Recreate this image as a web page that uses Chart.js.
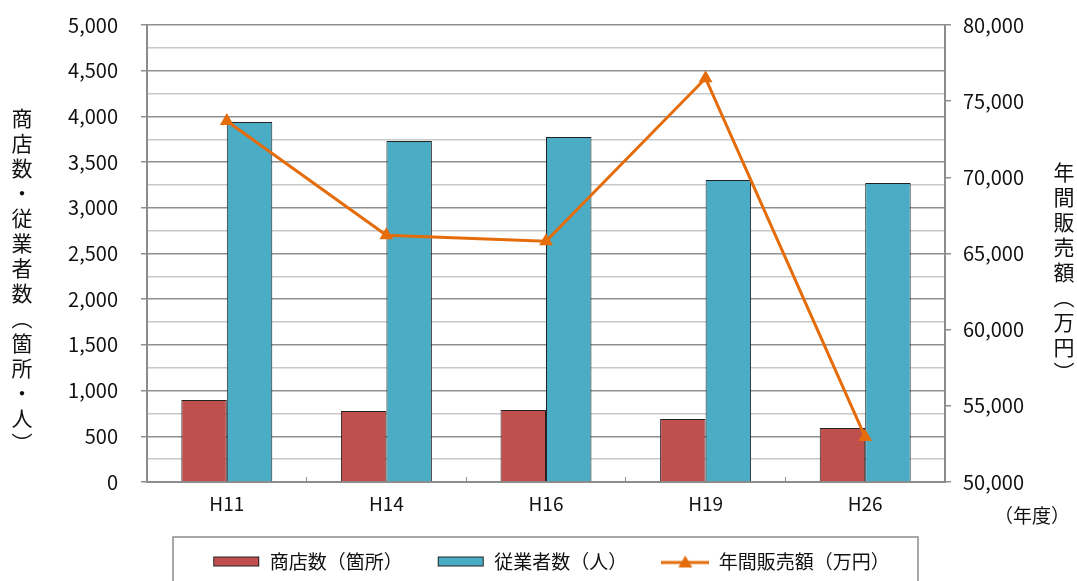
<!DOCTYPE html>
<html lang="ja">
<head>
<meta charset="utf-8">
<script src="https://cdn.jsdelivr.net/npm/chart.js@4.4.1/dist/chart.umd.min.js"></script>
<style>
  body { margin: 0; background: #fff; }
  #wrap { position: relative; width: 1077px; height: 581px; overflow: hidden; }
  .vtitle {
    position: absolute;
    writing-mode: vertical-rl;
    font-family: "Noto Sans CJK JP", sans-serif;
    font-size: 21px;
    letter-spacing: 4px;
    line-height: 30px;
    width: 30px;
    color: #111;
  }
  #unit {
    position: absolute;
    left: 994px;
    top: 501px;
    font-family: "Noto Sans CJK JP", sans-serif;
    font-size: 19px;
    color: #111;
  }
</style>
</head>
<body>
<div id="wrap">
  <canvas id="chart" width="1077" height="581"></canvas>
  <div class="vtitle" style="left:7px; top:108px;">商店数・従業者数（箇所・人）</div>
  <div class="vtitle" style="left:1049px; top:162px;">年間販売額（万円）</div>
  <div id="unit">（年度）</div>
</div>
<script>
// データ
const categories = ["H11", "H14", "H16", "H19", "H26"];
const shops = [897, 777, 788, 689, 591];            // 商店数（箇所）
const employees = [3939, 3731, 3775, 3304, 3271];   // 従業者数（人）
const sales = [73700, 66200, 65800, 76500, 52950];  // 年間販売額（万円）

const RED = "#C0504D";
const BLUE = "#4BACC6";
const ORANGE = "#E46C0A";
const FONT = "'Noto Sans CJK JP', 'Noto Sans', sans-serif";

const fmt = (v) => v.toLocaleString("en-US");

// 凡例のマーカー（キャンバス画像）
function swatch(color) {
  const c = document.createElement("canvas");
  c.width = 48;
  c.height = 12;
  const g = c.getContext("2d");
  g.fillStyle = color;
  g.fillRect(1, 1, 46, 10);
  g.strokeStyle = "#222";
  g.lineWidth = 1;
  g.strokeRect(1.5, 1.5, 45, 9);
  return c;
}
function lineMarker() {
  const c = document.createElement("canvas");
  c.width = 48;
  c.height = 16;
  const g = c.getContext("2d");
  g.strokeStyle = ORANGE;
  g.lineWidth = 3;
  g.beginPath();
  g.moveTo(0, 9);
  g.lineTo(48, 9);
  g.stroke();
  g.fillStyle = ORANGE;
  g.beginPath();
  g.moveTo(24, 2);
  g.lineTo(31, 14);
  g.lineTo(17, 14);
  g.closePath();
  g.fill();
  return c;
}
const legendMarks = [swatch(RED), swatch(BLUE), lineMarker()];

// 凡例の枠
const legendFrame = {
  id: "legendFrame",
  afterDraw(chart) {
    const ctx = chart.ctx;
    ctx.save();
    ctx.strokeStyle = "#8c8c8c";
    ctx.lineWidth = 1.5;
    ctx.strokeRect(173, 537, 745, 60);
    ctx.restore();
  },
};

const ctx = document.getElementById("chart").getContext("2d");
new Chart(ctx, {
  type: "bar",
  data: {
    labels: categories,
    datasets: [
      {
        label: "商店数（箇所）",
        data: shops,
        backgroundColor: RED,
        borderColor: "#222",
        borderWidth: 1,
        yAxisID: "y",
        order: 2,
      },
      {
        label: "従業者数（人）",
        data: employees,
        backgroundColor: BLUE,
        borderColor: "#222",
        borderWidth: 1,
        yAxisID: "y",
        order: 2,
      },
      {
        type: "line",
        label: "年間販売額（万円）",
        data: sales,
        borderColor: ORANGE,
        backgroundColor: ORANGE,
        borderWidth: 3,
        tension: 0,
        pointStyle: "triangle",
        pointRadius: 8,
        pointBorderWidth: 0,
        pointBackgroundColor: ORANGE,
        yAxisID: "y1",
        order: 1,
      },
    ],
  },
  options: {
    responsive: false,
    animation: false,
    layout: { padding: { left: 25, top: 25, right: 0, bottom: 0 } },
    datasets: {
      bar: { barPercentage: 1, categoryPercentage: 0.57 },
    },
    plugins: {
      tooltip: { enabled: false },
      legend: {
        position: "bottom",
        labels: {
          usePointStyle: true,
          pointStyleWidth: 48,
          boxHeight: 12,
          padding: 34,
          color: "#111",
          font: { family: FONT, size: 19 },
          sort: (a, b) => a.datasetIndex - b.datasetIndex,
          generateLabels(chart) {
            const items = Chart.defaults.plugins.legend.labels.generateLabels(chart);
            items.forEach((it) => {
              it.pointStyle = legendMarks[it.datasetIndex];
            });
            return items;
          },
        },
      },
    },
    scales: {
      x: {
        offset: true,
        grid: {
          offset: true,
          drawOnChartArea: false,
          tickLength: -5,
          color: "#8c8c8c",
          lineWidth: 1,
        },
        border: { color: "#8c8c8c", width: 2 },
        ticks: {
          color: "#111",
          padding: 15,
          font: { family: FONT, size: 19 },
        },
        afterFit(s) {
          s.height = 581 - 25 - 457 - s.chart.legend.height;
        },
      },
      y: {
        position: "left",
        min: 0,
        max: 5000,
        grid: {
          color: (c) => (c.tick && c.tick.value % 500 === 0 ? "#8f8f8f" : "#c8c8c8"),
          tickColor: (c) => (c.tick && c.tick.value % 500 === 0 ? "#8f8f8f" : "rgba(0,0,0,0)"),
          lineWidth: 1.5,
          tickLength: 6,
        },
        border: { color: "#8c8c8c", width: 2 },
        ticks: {
          stepSize: 250,
          autoSkip: false,
          padding: 23,
          color: "#111",
          // lineHeight は小さくして上端の余白を増やさない
          font: { family: FONT, size: 20, lineHeight: 0.2 },
          callback: (v) => (v % 500 === 0 ? fmt(v) : ""),
        },
        afterFit(s) {
          s.width = 122;
        },
      },
      y1: {
        position: "right",
        min: 50000,
        max: 80000,
        grid: {
          drawOnChartArea: false,
          tickLength: 6,
          tickColor: "#8f8f8f",
          lineWidth: 1.5,
        },
        border: { color: "#8c8c8c", width: 2 },
        ticks: {
          stepSize: 5000,
          padding: 12,
          color: "#111",
          font: { family: FONT, size: 20, lineHeight: 0.2 },
          callback: (v) => fmt(v),
        },
        afterFit(s) {
          s.width = 132;
        },
      },
    },
  },
  plugins: [legendFrame],
});
</script>
</body>
</html>
